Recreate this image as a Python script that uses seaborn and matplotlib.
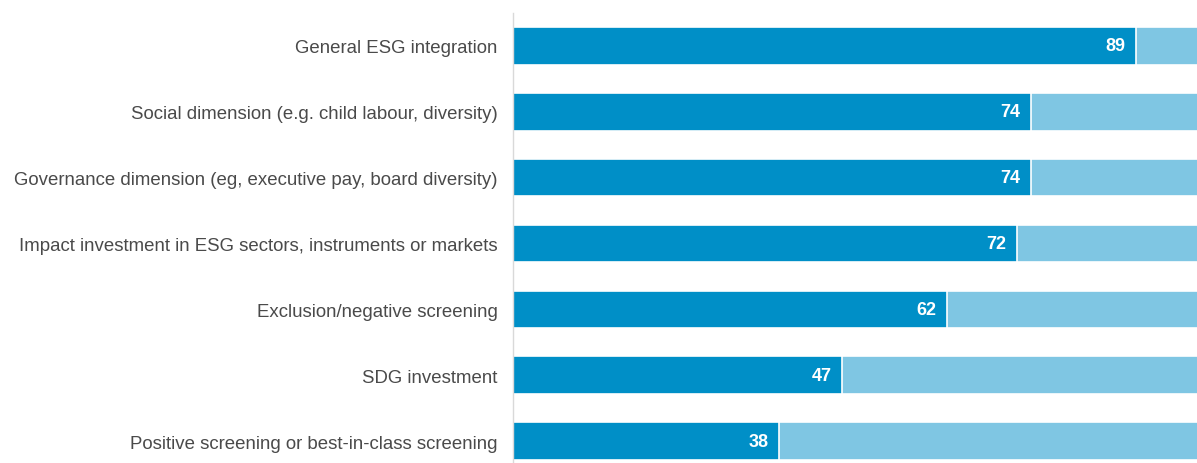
import pandas as pd
import matplotlib.pyplot as plt
import seaborn as sns

categories = [
    "General ESG integration",
    "Social dimension (e.g. child labour, diversity)",
    "Governance dimension (eg, executive pay, board diversity)",
    "Impact investment in ESG sectors, instruments or markets",
    "Exclusion/negative screening",
    "SDG investment",
    "Positive screening or best-in-class screening",
]
values = [89, 74, 74, 72, 62, 47, 38]
total = [100] * len(values)

DARK = "#008fc7"
LIGHT = "#7fc6e3"
TEXT = "#4a4a4a"

df = pd.DataFrame({"category": categories, "value": values, "total": total})

sns.set_style("white")
plt.rcParams["font.family"] = ["Liberation Sans", "DejaVu Sans"]

fig = plt.figure(figsize=(11.97, 4.64), dpi=100)
ax = fig.add_axes([513 / 1197, -11 / 464, 700 / 1197, 461 / 464])

# remainder bar (full 100) behind, value bar in front
sns.barplot(data=df, x="total", y="category", color=LIGHT, width=0.57,
            saturation=1, edgecolor="white", linewidth=1.2, ax=ax, orient="h")
sns.barplot(data=df, x="value", y="category", color=DARK, width=0.57,
            saturation=1, edgecolor="white", linewidth=1.2, ax=ax, orient="h")

for i, v in enumerate(values):
    ax.text(v - 1.5, i, str(v), ha="right", va="center", color="white",
            fontsize=13, fontweight="bold")

ax.set_xlim(0, 100)
ax.set_ylim(6.5, -0.5)
ax.set_xlabel("")
ax.set_ylabel("")
ax.set_xticks([])
ax.tick_params(axis="y", length=0, pad=11, labelsize=13.4, labelcolor=TEXT)
for s in ["top", "right", "bottom"]:
    ax.spines[s].set_visible(False)
ax.spines["left"].set_color("#d9d9d9")
ax.spines["left"].set_linewidth(1)

fig.savefig("out.png", dpi=100)
